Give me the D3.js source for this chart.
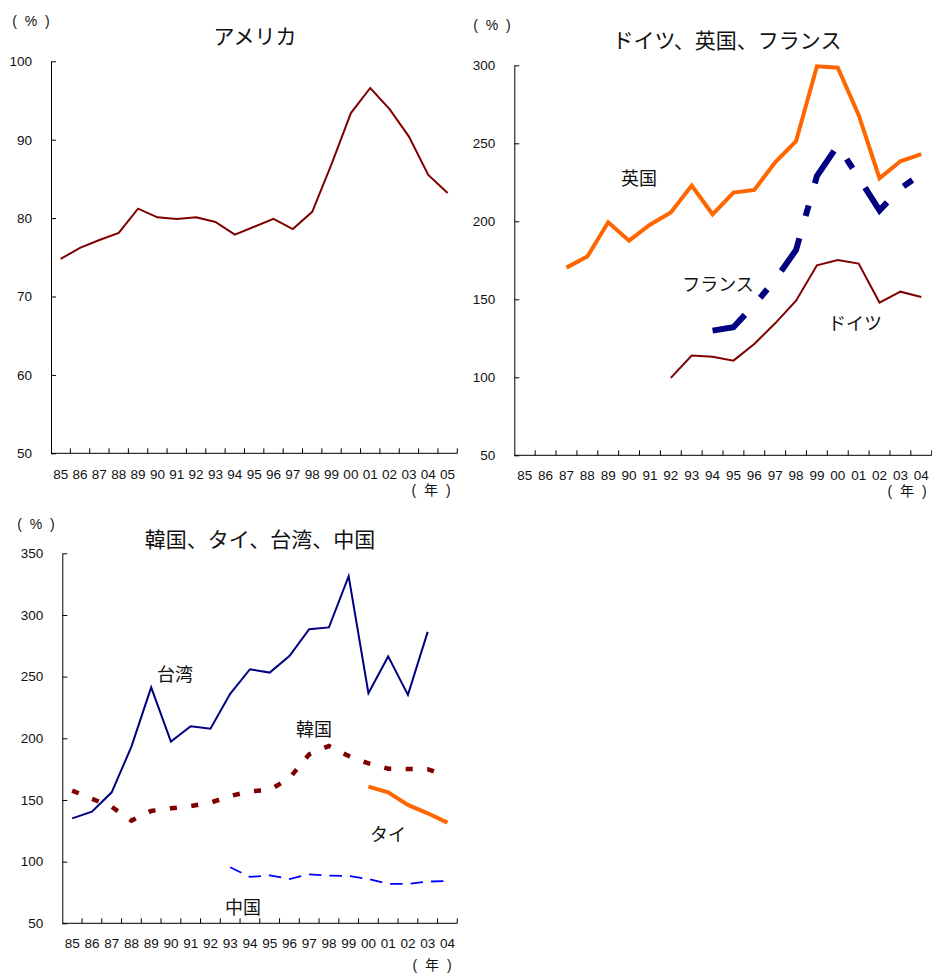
<!DOCTYPE html>
<html>
<head>
<meta charset="utf-8">
<script src="https://cdn.jsdelivr.net/npm/d3@7"></script>
<style>
  body { margin: 0; background: #fff; }
  svg { display: block; }
  .num { font-family: "Liberation Sans", Arial, sans-serif; font-size: 13.5px; fill: #111; }
  .jp { font-family: "Noto Sans CJK JP", sans-serif; fill: #111; }
  .unit { font-family: "Liberation Sans", "Noto Sans CJK JP", sans-serif; fill: #111; }
</style>
</head>
<body>
<svg id="chart" width="932" height="975"></svg>
<script>
// ---------- Data ----------
const yearsUS = ["85","86","87","88","89","90","91","92","93","94","95","96","97","98","99","00","01","02","03","04","05"];
const usValues = [74.8,76.2,77.2,78.1,81.2,80.1,79.9,80.1,79.5,77.9,78.9,79.9,78.6,80.8,86.9,93.4,96.6,93.9,90.4,85.5,83.2];
const usTicks = [50,60,70,80,90,100];

const yearsEU = ["85","86","87","88","89","90","91","92","93","94","95","96","97","98","99","00","01","02","03","04"];
const ukValues      = [null,null,170.3,177.4,199.4,187.6,197.8,205.6,222.9,204.5,218.4,220.1,237.8,251.3,299.4,298.5,268.2,227.6,238.5,243.0];
const franceValues  = [null,null,null,null,null,null,null,null,null,129.9,132.1,146.5,162.5,181.6,229.0,248.7,228.0,207.0,221.0,230.5];
const germanyValues = [null,null,null,null,null,null,null,99.6,113.9,113.2,110.7,121.4,134.6,149.1,171.8,175.2,172.9,147.9,154.9,151.5];
const euTicks = [50,100,150,200,250,300];

const yearsAS = ["85","86","87","88","89","90","91","92","93","94","95","96","97","98","99","00","01","02","03","04"];
const taiwanValues = [135.1,140.5,156.2,193.2,241.3,197.3,209.8,207.8,236.1,256.0,253.3,266.7,288.5,289.9,331.4,236.6,266.4,235.2,286.3,null];
const koreaValues  = [157.6,151.0,144.5,133.2,141.1,143.2,145.1,147.8,153.2,157.0,158.1,167.6,187.0,193.8,185.7,179.7,175.4,175.1,175.0,169.0];
const thaiValues   = [null,null,null,null,null,null,null,null,null,null,null,null,null,null,null,160.8,156.2,146.0,139.2,131.6];
const chinaValues  = [null,null,null,null,null,null,null,null,95.4,87.6,88.9,85.9,89.7,88.6,88.4,85.9,81.9,81.9,83.8,84.3];
const asTicks = [50,100,150,200,250,300,350];

// ---------- Drawing ----------
const svg = d3.select("#chart");
svg.append("rect").attr("width", 932).attr("height", 975).attr("fill", "#fff");

function panel(opt) {
  const g = svg.append("g");
  const x = d3.scaleBand().domain(opt.years).range([opt.x0, opt.x1]).padding(0);
  const y = d3.scaleLinear().domain([opt.ticks[0], opt.ticks[opt.ticks.length - 1]]).range([opt.yBot, opt.yTop]);
  const cx = d => x(d) + x.bandwidth() / 2;

  // y axis (ticks pointing inward)
  const ya = g.append("g").attr("transform", `translate(${opt.x0},0)`)
    .call(d3.axisLeft(y).tickValues(opt.ticks).tickSizeInner(-5).tickSizeOuter(0).tickPadding(19).tickFormat(d3.format("d")));
  ya.select(".domain").attr("stroke", "#000");
  ya.selectAll(".tick line").attr("stroke", "#000");
  ya.selectAll(".tick text").attr("class", "num").attr("fill", null);
  ya.attr("font-size", null).attr("font-family", null);

  // x axis (labels at band centres, ticks at band boundaries, pointing inward)
  const xa = g.append("g").attr("transform", `translate(0,${opt.yBot})`)
    .call(d3.axisBottom(x).tickSize(0).tickPadding(opt.xPad));
  xa.select(".domain").attr("stroke", "#000").attr("d", `M${opt.x0},0H${opt.x1}`);
  xa.selectAll(".tick text").attr("class", "num").attr("fill", null);
  xa.attr("font-size", null).attr("font-family", null);
  const bounds = opt.years.map(d => x(d) + x.bandwidth());
  g.append("g").selectAll("line").data(bounds).join("line")
    .attr("x1", d => d).attr("x2", d => d)
    .attr("y1", opt.yBot).attr("y2", opt.yBot - 5)
    .attr("stroke", "#000").attr("stroke-width", 1);

  // series
  opt.series.forEach(s => {
    const pts = opt.years.map((yr, i) => ({ yr, v: s.values[i] }));
    const line = d3.line().defined(d => d.v != null).x(d => cx(d.yr)).y(d => y(d.v));
    const p = g.append("path").datum(pts)
      .attr("d", line)
      .attr("fill", "none")
      .attr("stroke", s.color)
      .attr("stroke-width", s.width)
      .attr("stroke-linejoin", "miter");
    if (s.dash) {
      let dash = s.dash;
      if (s.fitDash) {
        // stretch pattern slightly so the line ends at the end of a gap
        const period = d3.sum(dash);
        const L = p.node().getTotalLength();
        const n = Math.max(1, Math.round(L / period));
        const k = L / (n * period);
        dash = dash.map(v => v * k);
      }
      p.attr("stroke-dasharray", dash.join(","));
    }
  });

  // title and unit labels
  g.append("text").attr("class", "jp").attr("x", opt.titleX).attr("y", opt.titleY)
    .attr("text-anchor", "middle").attr("dominant-baseline", "central").attr("font-size", 21).text(opt.title);
  g.append("text").attr("class", "unit").attr("x", opt.pctX).attr("y", opt.pctY)
    .attr("text-anchor", "middle").attr("dominant-baseline", "central").attr("font-size", 14)
    .attr("letter-spacing", 2).text("( % )");
  g.append("text").attr("class", "unit").attr("x", opt.yearX).attr("y", opt.yearY)
    .attr("text-anchor", "middle").attr("dominant-baseline", "central").attr("font-size", 14)
    .attr("letter-spacing", 2).text("( 年 )");
  (opt.labels || []).forEach(l => {
    g.append("text").attr("class", "jp").attr("x", l.x).attr("y", l.y)
      .attr("text-anchor", "middle").attr("dominant-baseline", "central").attr("font-size", 18).text(l.text);
  });
}

panel({
  years: yearsUS, ticks: usTicks, x0: 51, x1: 457.3, yTop: 61.3, yBot: 453.3, xPad: 16,
  title: "アメリカ", titleX: 255, titleY: 35, pctX: 32, pctY: 21, yearX: 432, yearY: 490,
  series: [{ values: usValues, color: "#800000", width: 2 }]
});

panel({
  years: yearsEU, ticks: euTicks, x0: 514.3, x1: 931.7, yTop: 65.3, yBot: 455.3, xPad: 15,
  title: "ドイツ、英国、フランス", titleX: 727, titleY: 39, pctX: 493, pctY: 25, yearX: 908, yearY: 491,
  series: [
    { values: ukValues, color: "#FF6600", width: 4 },
    { values: franceValues, color: "#000080", width: 6, dash: [38, 23, 11, 23] },
    { values: germanyValues, color: "#800000", width: 2 }
  ],
  labels: [
    { text: "英国", x: 639, y: 177 },
    { text: "フランス", x: 718, y: 283 },
    { text: "ドイツ", x: 855, y: 322 }
  ]
});

panel({
  years: yearsAS, ticks: asTicks, x0: 62.3, x1: 457.3, yTop: 553.3, yBot: 923.3, xPad: 15,
  title: "韓国、タイ、台湾、中国", titleX: 260, titleY: 538, pctX: 37, pctY: 524, yearX: 433, yearY: 965,
  series: [
    { values: taiwanValues, color: "#000080", width: 2 },
    { values: koreaValues, color: "#800000", width: 4.5, dash: [7, 14.3], fitDash: true },
    { values: thaiValues, color: "#FF6600", width: 4 },
    { values: chinaValues, color: "#0000FF", width: 1.8, dash: [12.5, 8] }
  ],
  labels: [
    { text: "台湾", x: 175, y: 673 },
    { text: "韓国", x: 314, y: 728 },
    { text: "タイ", x: 388, y: 833 },
    { text: "中国", x: 243, y: 906 }
  ]
});
</script>
</body>
</html>
